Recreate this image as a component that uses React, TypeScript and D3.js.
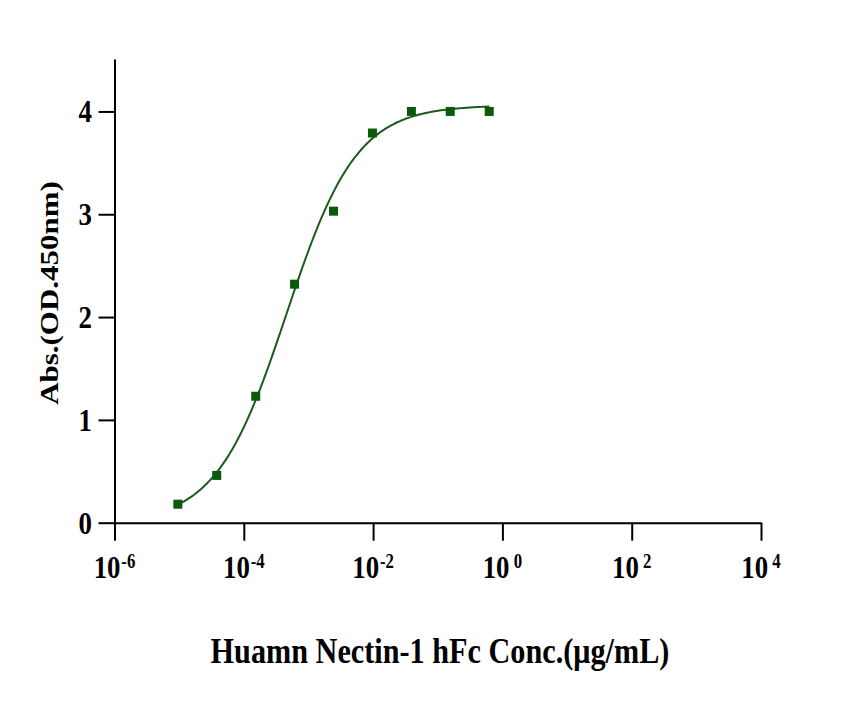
import { useEffect, useRef } from 'react'
import * as d3 from 'd3'

// concentrations (µg/mL), 4-fold dilutions
const concentrations = [0.00000954, 0.0000381, 0.000153, 0.00061, 0.00244, 0.00977, 0.0391, 0.156, 0.625]
const absorbance = [0.18, 0.46, 1.23, 2.32, 3.03, 3.79, 4.0, 4.0, 4.0]

const xTickExponents = [-6, -4, -2, 0, 2, 4]
const yTicks = [0, 1, 2, 3, 4]

// 4PL fit estimated from the drawn curve
const fitBottom = 0
const fitTop = 4.06
const fitLogEC50 = -3.34
const fitHill = 0.8

const GREEN_MARK = '#0a5a0a'
const GREEN_LINE = '#1a5c1a'
const FONT = '"Liberation Serif", "Times New Roman", serif'
const SQUEEZE = 0.84

export default function App() {
  const svgRef = useRef<SVGSVGElement>(null)

  useEffect(() => {
    document.body.style.margin = '0'
    if (!svgRef.current) return

    const svg = d3.select(svgRef.current)
    svg.selectAll('*').remove()

    const width = 850
    const height = 704

    svg.attr('width', width).attr('height', height)

    const x = d3.scaleLog().domain([1e-6, 1e4]).range([114.5, 761])
    const y = d3.scaleLinear().domain([0, 4.51]).range([522.7, 59])

    // Axes
    const xAxis = d3.axisBottom(x)
      .tickValues(xTickExponents.map(e => Math.pow(10, e)))
      .tickSize(18)
      .tickSizeOuter(0)
      .tickFormat(() => '')

    const yAxis = d3.axisLeft(y)
      .tickValues(yTicks)
      .tickSize(16)
      .tickSizeOuter(0)
      .tickFormat(() => '')

    const gx = svg.append('g')
      .attr('transform', `translate(0,${y(0)})`)
      .call(xAxis)
    gx.selectAll('path, line').attr('stroke', '#000').attr('stroke-width', 2)

    const gy = svg.append('g')
      .attr('transform', `translate(${x(1e-6)},0)`)
      .call(yAxis)
    gy.selectAll('path, line').attr('stroke', '#000').attr('stroke-width', 2)

    // X tick labels with superscript exponents
    xTickExponents.forEach(e => {
      const t = svg.append('text')
        .attr('transform', `translate(${x(Math.pow(10, e))},578) scale(${SQUEEZE},1)`)
        .attr('text-anchor', 'middle')
        .attr('font-family', FONT)
        .attr('font-weight', 'bold')
        .attr('font-size', 32)
        .attr('fill', '#000')
      t.append('tspan').text('10')
      t.append('tspan')
        .attr('font-size', 20)
        .attr('dy', -10)
        .attr('dx', e >= 0 ? 5 : 1)
        .text(e < 0 ? `-${Math.abs(e)}` : `${e}`)
    })

    // Y tick labels
    yTicks.forEach(v => {
      svg.append('text')
        .attr('transform', `translate(92,${y(v) + 11}) scale(${SQUEEZE},1)`)
        .attr('text-anchor', 'end')
        .attr('font-family', FONT)
        .attr('font-weight', 'bold')
        .attr('font-size', 32)
        .attr('fill', '#000')
        .text(String(v))
    })

    // Axis titles
    svg.append('text')
      .attr('transform', `translate(58,293) scale(${SQUEEZE},1) rotate(-90)`)
      .attr('text-anchor', 'middle')
      .attr('font-family', FONT)
      .attr('font-weight', 'bold')
      .attr('font-size', 31)
      .attr('fill', '#000')
      .text('Abs.(OD.450nm)')

    svg.append('text')
      .attr('transform', `translate(440,663) scale(${SQUEEZE},1)`)
      .attr('text-anchor', 'middle')
      .attr('font-family', FONT)
      .attr('font-weight', 'bold')
      .attr('font-size', 36)
      .attr('fill', '#000')
      .text('Huamn Nectin-1 hFc Conc.(μg/mL)')

    // Fitted curve
    const logMin = Math.log10(concentrations[0])
    const logMax = Math.log10(concentrations[concentrations.length - 1])
    const fit = (lx: number) =>
      fitBottom + (fitTop - fitBottom) / (1 + Math.pow(10, (fitLogEC50 - lx) * fitHill))
    const curvePts = d3.range(0, 201).map(i => {
      const lx = logMin + (logMax - logMin) * (i / 200)
      return [x(Math.pow(10, lx)), y(fit(lx))] as [number, number]
    })

    svg.append('path')
      .attr('d', d3.line().curve(d3.curveLinear)(curvePts))
      .attr('fill', 'none')
      .attr('stroke', GREEN_LINE)
      .attr('stroke-width', 2)

    // Data markers
    const size = 9
    concentrations.forEach((c, i) => {
      svg.append('rect')
        .attr('x', x(c) - size / 2)
        .attr('y', y(absorbance[i]) - size / 2)
        .attr('width', size)
        .attr('height', size)
        .attr('fill', GREEN_MARK)
    })
  }, [])

  return <svg ref={svgRef} style={{ display: 'block' }} />
}
